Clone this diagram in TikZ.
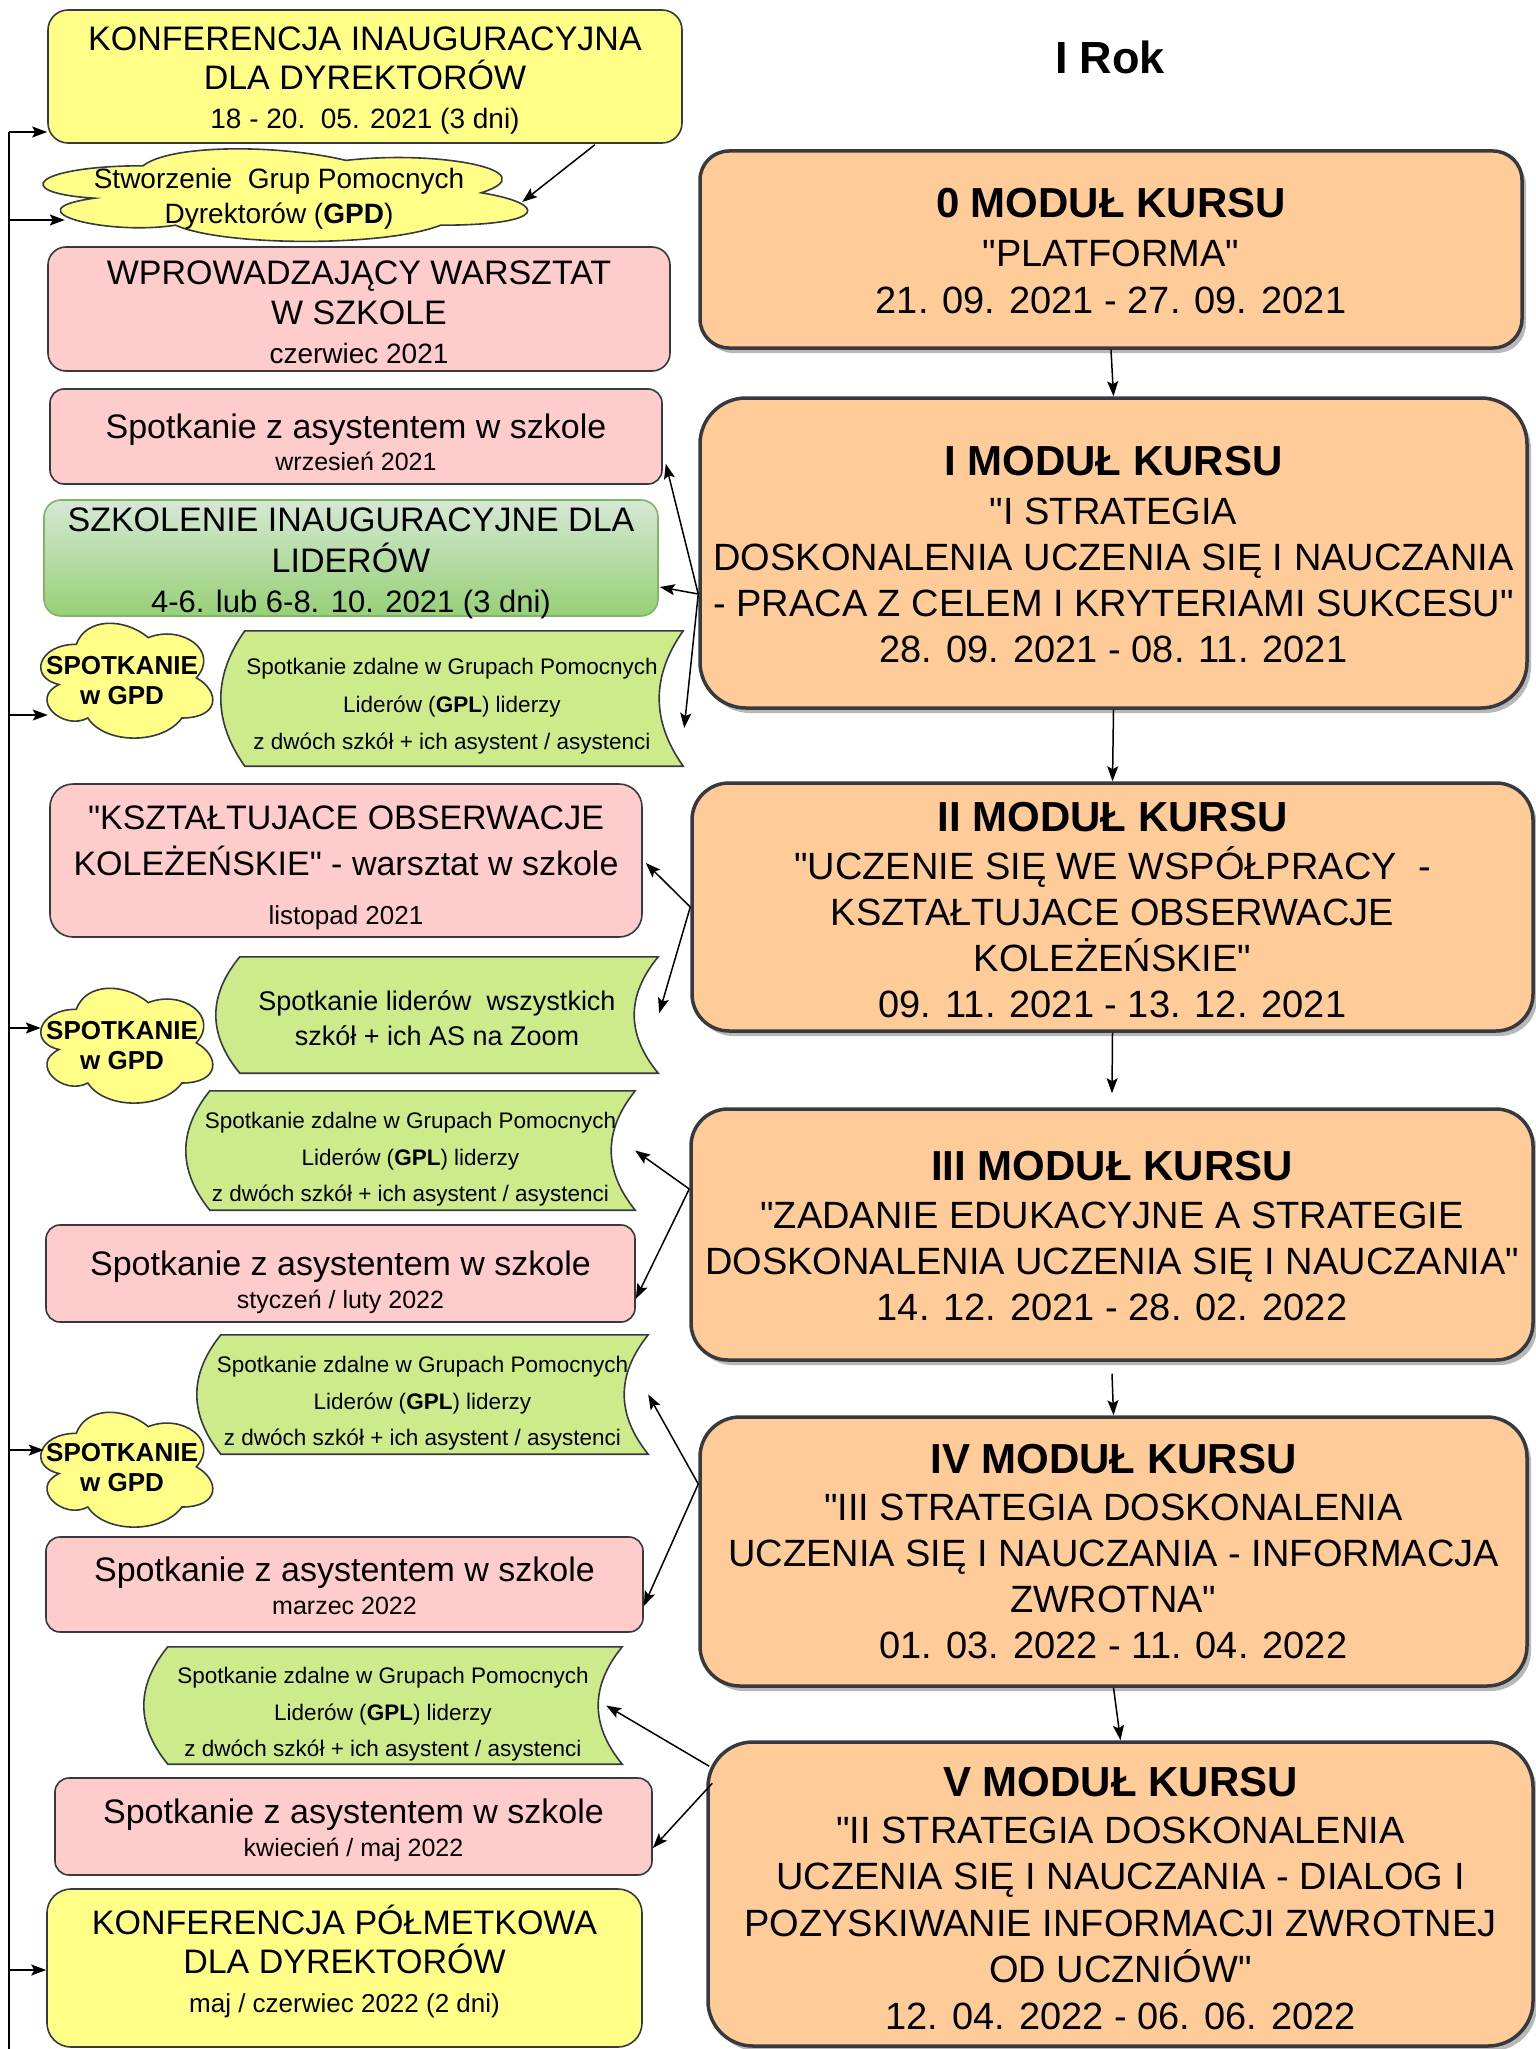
\documentclass[tikz,border=0pt]{standalone}
\usepackage{fontspec}
\setmainfont{Liberation Sans}[Ligatures=TeXOff]
\usetikzlibrary{calc,arrows.meta,shadows}
\definecolor{edgec}{HTML}{36393D}
\definecolor{yelf}{HTML}{FFFF88}
\definecolor{pinkf}{HTML}{FFCCCC}
\definecolor{modf}{HTML}{FFCC99}
\definecolor{sdf}{HTML}{CDEB8B}
\definecolor{gtop}{HTML}{D5E8D4}
\definecolor{gbot}{HTML}{97D077}
\definecolor{gedge}{HTML}{82B366}
\newcommand\fs[2]{\fontsize{#1}{#2}\selectfont}
\newcommand\sdshape[1]{%
  \draw[sdsty] ($(#1.north west)+(24,0)$) -- (#1.north east)
    .. controls ($(#1.north east)!0.3333!(#1.south east)+(-32,0)$) and ($(#1.north east)!0.6667!(#1.south east)+(-32,0)$) .. (#1.south east)
    -- ($(#1.south west)+(24,0)$)
    .. controls ($(#1.north west)!0.6667!(#1.south west)+(-8,0)$) and ($(#1.north west)!0.3333!(#1.south west)+(-8,0)$) .. ($(#1.north west)+(24,0)$) -- cycle;}
\newcommand\cloudshape[3]{%
  \begin{scope}[shift={(#1.north west)}, x=#2pt, y=-#3pt]
  \draw[cloudsty] (0.25,0.25) .. controls (0.05,0.25) and (0,0.5) .. (0.16,0.55)
    .. controls (0,0.66) and (0.18,0.9) .. (0.31,0.8)
    .. controls (0.4,1) and (0.7,1) .. (0.8,0.8)
    .. controls (1,0.8) and (1,0.6) .. (0.875,0.5)
    .. controls (1,0.3) and (0.8,0.1) .. (0.625,0.2)
    .. controls (0.5,0.05) and (0.3,0.05) .. (0.25,0.25) -- cycle;
  \end{scope}}
\begin{document}
\begin{tikzpicture}[x=1pt,y=-1pt,
  box/.style={rectangle, draw=edgec, line width=1.6pt, inner sep=0pt},
  pinkbox/.style={box, fill=pinkf},
  yelbox/.style={box, fill=yelf},
  greenbox/.style={box, draw=gedge, top color=gtop, bottom color=gbot},
  modbox/.style={box, fill=modf, line width=3.5pt, drop shadow={shadow xshift=4pt,shadow yshift=-5pt,fill=black!28,opacity=1}},
  hold/.style={rectangle, inner sep=0pt, draw=none},
  txt/.style={inner sep=0pt, align=center, anchor=north},
  sdsty/.style={draw=edgec, fill=sdf, line width=1.6pt},
  cloudsty/.style={draw=edgec, fill=yelf, line width=1.6pt},
  arr/.style={-{Stealth[length=15pt,width=11pt,inset=3pt]}, line width=1.5pt},
  link/.style={line width=1.5pt}]
\useasboundingbox (0,0) rectangle (1535,2049);

% ---------- title
\node[txt, font=\bfseries\fs{45}{54}] (title) at (1110,41) {I Rok};

% ---------- module boxes
\node[modbox, minimum width=822pt, minimum height=197pt, rounded corners=29pt] (m0) at (1111,249.5) {};
\node[modbox, minimum width=827pt, minimum height=310pt, rounded corners=46pt] (m1) at (1113.5,553) {};
\node[modbox, minimum width=841pt, minimum height=248pt, rounded corners=37pt] (m2) at (1112.5,907) {};
\node[modbox, minimum width=842pt, minimum height=251pt, rounded corners=37pt] (m3) at (1112,1234.5) {};
\node[modbox, minimum width=827pt, minimum height=269pt, rounded corners=40pt] (m4) at (1113.5,1551.5) {};
\node[modbox, minimum width=825pt, minimum height=304pt, rounded corners=45pt] (m5) at (1120.5,1894) {};

% ---------- left boxes
\node[yelbox, minimum width=634pt, minimum height=133pt, rounded corners=20pt] (k1) at (365,76.5) {};
\node[pinkbox, minimum width=622pt, minimum height=124pt, rounded corners=18pt] (p1) at (359,309) {};
\node[pinkbox, minimum width=612pt, minimum height=95pt, rounded corners=14pt] (p2) at (356,436.5) {};
\node[greenbox, minimum width=614pt, minimum height=116pt, rounded corners=17pt] (g1) at (351,558) {};
\node[pinkbox, minimum width=592pt, minimum height=153pt, rounded corners=23pt] (p3) at (346,860.5) {};
\node[pinkbox, minimum width=589pt, minimum height=97pt, rounded corners=14pt] (p4) at (340.5,1273.5) {};
\node[pinkbox, minimum width=597pt, minimum height=95pt, rounded corners=14pt] (p5) at (344.5,1584.5) {};
\node[pinkbox, minimum width=597pt, minimum height=97pt, rounded corners=14pt] (p6) at (353.5,1826.5) {};
\node[yelbox, minimum width=595pt, minimum height=158pt, rounded corners=24pt] (k2) at (344.5,1968) {};

% ---------- stored data shapes
\node[hold, minimum width=462pt, minimum height=135pt] (sd1) at (452,698.5) {};
\node[hold, minimum width=442pt, minimum height=116pt] (sd2) at (437,1015) {};
\node[hold, minimum width=449pt, minimum height=119pt] (sd3) at (410.5,1150.5) {};
\node[hold, minimum width=451pt, minimum height=119pt] (sd4) at (422.5,1394.5) {};
\node[hold, minimum width=478pt, minimum height=117pt] (sd5) at (383,1705.5) {};
\sdshape{sd1}\sdshape{sd2}\sdshape{sd3}\sdshape{sd4}\sdshape{sd5}

% ---------- clouds
\node[hold, minimum width=541pt, minimum height=108pt] (cl1) at (278.5,193) {};
\node[hold, minimum width=192pt, minimum height=134pt] (cla) at (124.5,678) {};
\node[hold, minimum width=192pt, minimum height=134pt] (clb) at (124.5,1043) {};
\node[hold, minimum width=192pt, minimum height=134pt] (clc) at (124.5,1467) {};
\cloudshape{cl1}{541}{108}
\cloudshape{cla}{192}{134}
\cloudshape{clb}{192}{134}
\cloudshape{clc}{192}{134}

% ---------- texts, left column
\node[txt, font=\fs{34}{39}] (k1t) at (365,26.8) {KONFERENCJA INAUGURACYJNA\\DLA DYREKTORÓW\\{\fs{28}{34}18 - 20.\ \ 05. 2021 (3 dni)}};
\node[txt, font=\fs{28}{35}] (cl1t) at (279,168) {Stworzenie\ \ Grup Pomocnych\\Dyrektorów (\textbf{GPD})};
\node[txt, font=\fs{34}{39.5}] (p1t) at (359,260.8) {WPROWADZAJĄCY WARSZTAT\\W SZKOLE\\{\fs{28}{34}czerwiec 2021}};
\node[txt, font=\fs{34}{32}] (p2t) at (356,413.5) {Spotkanie z asystentem w szkole\\{\fs{25}{30}wrzesień 2021}};
\node[txt, font=\fs{34}{40.5}] (g1t) at (351,507.8) {SZKOLENIE INAUGURACYJNE DLA\\LIDERÓW\\{\fs{31}{36}4-6. lub 6-8. 10. 2021 (3 dni)}};
\node[txt, font=\bfseries\fs{26}{30}] (clat) at (122,655.7) {SPOTKANIE\\w GPD};
\node[txt, font=\fs{22.5}{37.5}] (sd1t) at (452,658) {Spotkanie zdalne w Grupach Pomocnych\\Liderów (\textbf{GPL}) liderzy\\z dwóch szkół + ich asystent / asystenci};
\node[txt, font=\fs{34}{46}] (p3t) at (346,805.8) {"KSZTAŁTUJACE OBSERWACJE\\KOLEŻEŃSKIE" - warsztat w szkole\\[3pt]{\fs{26}{30}listopad 2021}};
\node[txt, font=\bfseries\fs{26}{30}] (clbt) at (122,1020.7) {SPOTKANIE\\w GPD};
\node[txt, font=\fs{27}{35}] (sd2t) at (437,990.6) {Spotkanie liderów\ \ wszystkich\\szkół + ich AS na Zoom};
\node[txt, font=\fs{22.5}{36.5}] (sd3t) at (410.5,1112) {Spotkanie zdalne w Grupach Pomocnych\\Liderów (\textbf{GPL}) liderzy\\z dwóch szkół + ich asystent / asystenci};
\node[txt, font=\fs{34}{33}] (p4t) at (340.5,1250.5) {Spotkanie z asystentem w szkole\\{\fs{25}{30}styczeń / luty 2022}};
\node[txt, font=\fs{22.5}{36.5}] (sd4t) at (422.5,1356) {Spotkanie zdalne w Grupach Pomocnych\\Liderów (\textbf{GPL}) liderzy\\z dwóch szkół + ich asystent / asystenci};
\node[txt, font=\bfseries\fs{26}{30}] (clct) at (122,1442.7) {SPOTKANIE\\w GPD};
\node[txt, font=\fs{34}{33}] (p5t) at (344.5,1556.5) {Spotkanie z asystentem w szkole\\{\fs{25}{30}marzec 2022}};
\node[txt, font=\fs{22.5}{36.5}] (sd5t) at (383,1667) {Spotkanie zdalne w Grupach Pomocnych\\Liderów (\textbf{GPL}) liderzy\\z dwóch szkół + ich asystent / asystenci};
\node[txt, font=\fs{34}{33}] (p6t) at (353.5,1798.5) {Spotkanie z asystentem w szkole\\{\fs{25}{30}kwiecień / maj 2022}};
\node[txt, font=\fs{34}{39}] (k2t) at (344.5,1905) {KONFERENCJA PÓŁMETKOWA\\DLA DYREKTORÓW\\{\fs{26}{30}maj / czerwiec 2022 (2 dni)}};

% ---------- texts, modules
\node[txt, font=\fs{38}{47}] (m0t) at (1111,188) {{\bfseries\fs{42}{47}0 MODUŁ KURSU}\\[2pt]"PLATFORMA"\\21. 09. 2021 - 27. 09. 2021};
\node[txt, font=\fs{38}{46}] (m1t) at (1113.5,446) {{\bfseries\fs{42}{46}I MODUŁ KURSU}\\[2.5pt]"I STRATEGIA\\DOSKONALENIA UCZENIA SIĘ I NAUCZANIA\\- PRACA Z CELEM I KRYTERIAMI SUKCESU"\\28. 09. 2021 - 08. 11. 2021};
\node[txt, font=\fs{38}{46}] (m2t) at (1112.5,802) {{\bfseries\fs{42}{46}II MODUŁ KURSU}\\[2pt]"UCZENIE SIĘ WE WSPÓŁPRACY\ \ -\\KSZTAŁTUJACE OBSERWACJE\\KOLEŻEŃSKIE"\\09. 11. 2021 - 13. 12. 2021};
\node[txt, font=\fs{38}{46}] (m3t) at (1112,1151) {{\bfseries\fs{42}{46}III MODUŁ KURSU}\\[2pt]"ZADANIE EDUKACYJNE A STRATEGIE\\DOSKONALENIA UCZENIA SIĘ I NAUCZANIA"\\14. 12. 2021 - 28. 02. 2022};
\node[txt, font=\fs{38}{46}] (m4t) at (1113.5,1444) {{\bfseries\fs{42}{46}IV MODUŁ KURSU}\\[1pt]"III STRATEGIA DOSKONALENIA\\UCZENIA SIĘ I NAUCZANIA - INFORMACJA\\ZWROTNA"\\01. 03. 2022 - 11. 04. 2022};
\node[txt, font=\fs{38}{46.5}] (m5t) at (1120.5,1767) {{\bfseries\fs{42}{46}V MODUŁ KURSU}\\"II STRATEGIA DOSKONALENIA\\UCZENIA SIĘ I NAUCZANIA - DIALOG I\\POZYSKIWANIE INFORMACJI ZWROTNEJ\\OD UCZNIÓW"\\12. 04. 2022 - 06. 06. 2022};

% ---------- module chain
\draw[arr] (m0.south) -- (m1.north);
\draw[arr] (m1.south) -- (m2.north);
\draw[arr] (m2.south) -- ([yshift=14pt]m3.north);
\draw[arr] ([yshift=-12pt]m3.south) -- (m4.north);
\draw[arr] (m4.south) -- (m5.north);

% ---------- module -> left items
\coordinate (m1o) at ($(m1.west)+(0,41)$);
\draw[arr] (m1o) -- ($(p2.south east)+(3,-21)$);
\draw[arr] (m1o) -- ($(g1.east)+(1,29)$);
\draw[arr] (m1o) -- ($(sd1.east)+(1,29.5)$);
\draw[arr] (m2.west) -- ($(p3.east)+(3,2.5)$);
\draw[arr] (m2.west) -- ($(sd2.east)+(1,-2)$);
\coordinate (m3o) at ($(m3.west)+(0,-45.5)$);
\draw[arr] (m3o) -- (sd3.east);
\draw[arr] (m3o) -- ($(p4.south east)+(0,-24)$);
\coordinate (m4o) at ($(m4.west)+(0,-67.5)$);
\draw[arr] (m4o) -- (sd4.east);
\draw[arr] (m4o) -- ($(p5.east)+(0,21.5)$);
\coordinate (m5a) at ($(m5.north west)+(3,26)$);
\coordinate (m5b) at ($(m5.north west)+(6,43)$);
\draw[arr] (m5a) -- ($(sd5.east)+(-16,0)$);
\draw[arr] (m5b) -- ($(p6.east)+(0,21.5)$);

% ---------- conference -> GPD cloud
\draw[arr] ($(k1.south east)+(-88,1)$) -- ($(cl1.east)+(-27,9)$);

% ---------- left bus
\coordinate (bus) at (9,132);
\coordinate (busend) at (9,2049);
\draw[link] (bus) -- (busend);
\draw[arr] (bus) -- (bus -| k1.west);
\coordinate (cl1in) at ($(cl1.west)+(57,27)$);
\draw[arr] (bus |- cl1in) -- (cl1in);
\coordinate (clain) at ($(cla.west)+(19.5,37)$);
\draw[arr] (bus |- clain) -- (clain);
\coordinate (clbin) at ($(clb.west)+(12.5,-15)$);
\draw[arr] (bus |- clbin) -- (clbin);
\coordinate (clcin) at ($(clc.west)+(15.5,-17)$);
\draw[arr] (bus |- clcin) -- (clcin);
\coordinate (k2in) at ($(k2.west)+(0,2)$);
\draw[arr] (bus |- k2in) -- (k2in);
\end{tikzpicture}
\end{document}
